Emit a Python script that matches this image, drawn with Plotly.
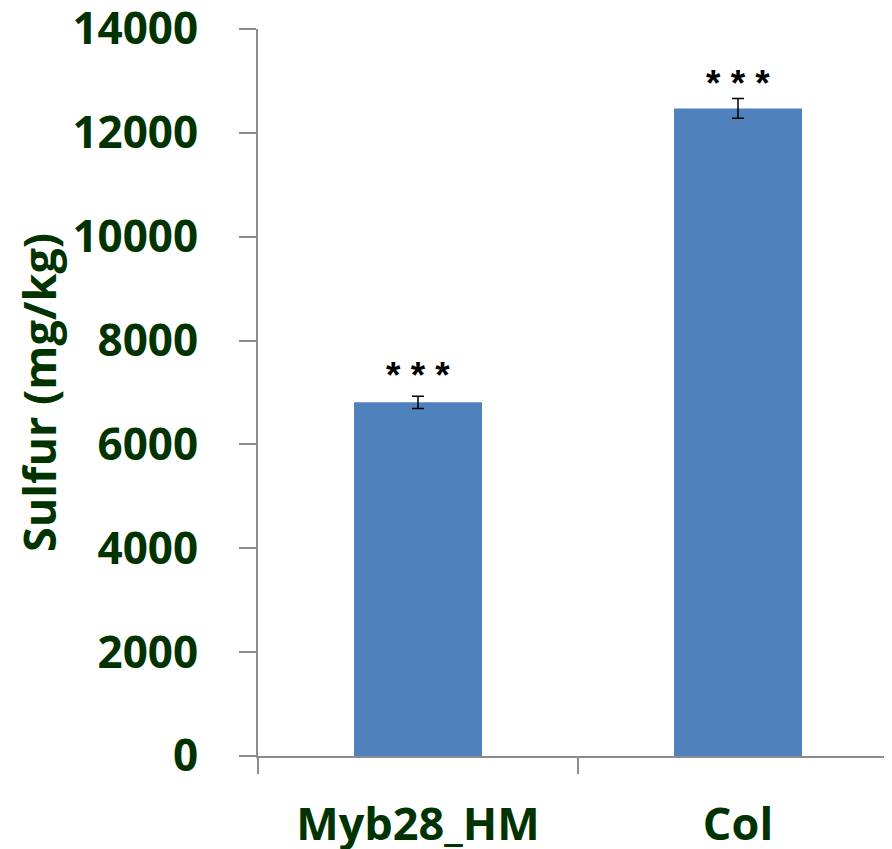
import plotly.graph_objects as go

categories = ["Myb28_HM", "Col"]
values = [6810, 12470]
errors = [120, 190]
marks = ["* * *", "* * *"]
mark_shift_px = [21, 15]

green = "#003300"
fig = go.Figure()
fig.add_trace(go.Bar(
    x=categories, y=values, width=0.4,
    marker=dict(color="#4F81BD", line=dict(width=0)),
    error_y=dict(type="data", array=errors, color="black", thickness=1.5, width=6),
))
for c, v, e, m, s in zip(categories, values, errors, marks, mark_shift_px):
    fig.add_annotation(x=c, y=v + e, text=m, showarrow=False, yanchor="middle",
                       yshift=s, font=dict(family="Liberation Sans", size=37,
                                           color="black", weight="bold"))

# the page body has an 8px margin, so the figure is offset by (8, 8)
fig.update_layout(
    width=884, height=841, paper_bgcolor="white", plot_bgcolor="white",
    margin=dict(l=250, r=0, t=21, b=93), showlegend=False,
)
fig.update_xaxes(
    automargin=False, ticklabeloverflow="allow", range=[-0.5, 1.48125],
    showline=True, linecolor="#8c8c8c", linewidth=2, ticks="outside", ticklen=16,
    tickwidth=2, tickcolor="#8c8c8c", tickson="boundaries", showgrid=False,
    tickfont=dict(family="Open Sans", size=45, color=green, weight="bold"),
    ticklabelstandoff=28,
)
fig.update_yaxes(
    automargin=False, ticklabeloverflow="allow",
    range=[0, 14000], dtick=2000, tickformat="d", showline=True, linecolor="#8c8c8c",
    linewidth=2, ticks="outside", ticklen=17, tickwidth=2, tickcolor="#8c8c8c",
    showgrid=False, zeroline=False,
    tickfont=dict(family="Open Sans", size=44, color=green, weight="bold"),
    ticklabelstandoff=32,
    title=dict(text="Sulfur (mg/kg)", standoff=12,
               font=dict(family="Open Sans", size=45, color=green, weight="bold")),
)
fig.write_html("out.html")
